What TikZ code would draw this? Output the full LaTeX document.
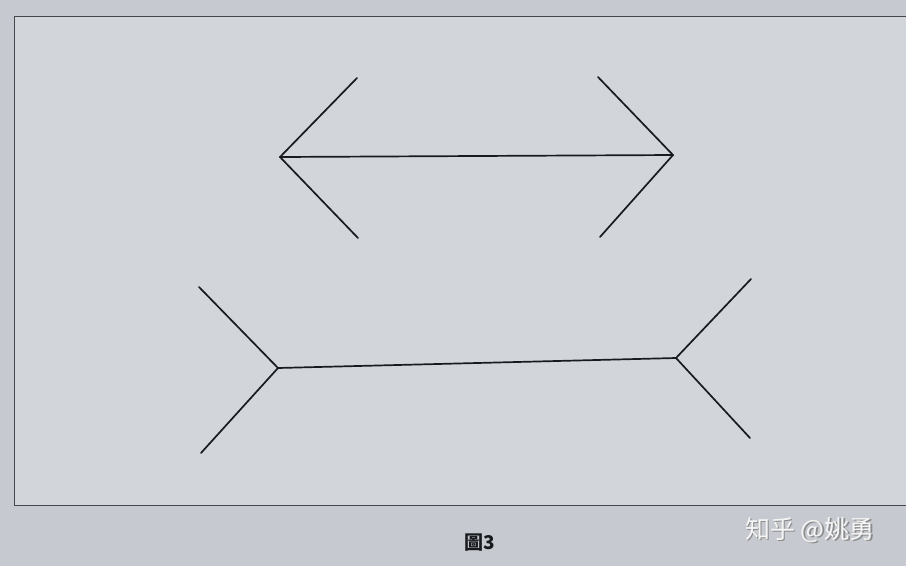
\documentclass[tikz,border=0pt]{standalone}
\usepackage{fontspec}
\newfontfamily\tcfont{Noto Sans CJK TC}
\newfontfamily\scfont{Noto Sans CJK SC}
\usetikzlibrary{positioning}
\definecolor{paper}{RGB}{198,201,207}
\definecolor{paperin}{RGB}{210,213,218}
\definecolor{ink}{RGB}{24,26,30}
\tikzset{finline/.style={draw=ink, line width=1.7pt, line cap=round}, frameline/.style={draw=ink!80, line width=1pt}}

\begin{document}
\begin{tikzpicture}[x=1pt, y=-1pt]
        % Page
        \fill[paper] (0,0) rectangle (906,566);
        \useasboundingbox (0,0) rectangle (906,566);
        \filldraw[fill=paperin, frameline] (14,16) rectangle (912,505);
        % Upper figure
        \coordinate (uleft) at (280,157);
        \coordinate (uright) at (673,155);
        \coordinate (ulefttop) at (357,78);
        \coordinate (uleftbot) at (358,238);
        \coordinate (urighttop) at (598,77);
        \coordinate (urightbot) at (600,237);
        \draw[finline] (uleft) -- (uright);
        \draw[finline] (ulefttop) -- (uleft) -- (uleftbot);
        \draw[finline] (urighttop) -- (uright) -- (urightbot);
        % Lower figure
        \coordinate (lleft) at (278,368);
        \coordinate (lright) at (676,358);
        \coordinate (llefttop) at (199,287);
        \coordinate (lleftbot) at (201,453);
        \coordinate (lrighttop) at (751,279);
        \coordinate (lrightbot) at (750,438);
        \draw[finline] (lleft) -- (lright);
        \draw[finline] (llefttop) -- (lleft) -- (lleftbot);
        \draw[finline] (lrighttop) -- (lright) -- (lrightbot);
        % Caption
        \node[text=ink, font=\tcfont\bfseries\fontsize{19}{19}\selectfont] (caption) at (480,543) {圖3};
        % Watermark
        \node[text=black!45, font=\scfont\fontsize{25}{25}\selectfont] (markshadow) at (811.5,531.5) {知乎 @姚勇};
        \node[text=white!92!gray, font=\scfont\fontsize{25}{25}\selectfont] (mark) at (810,530) {知乎 @姚勇};
    \end{tikzpicture}
\end{document}
